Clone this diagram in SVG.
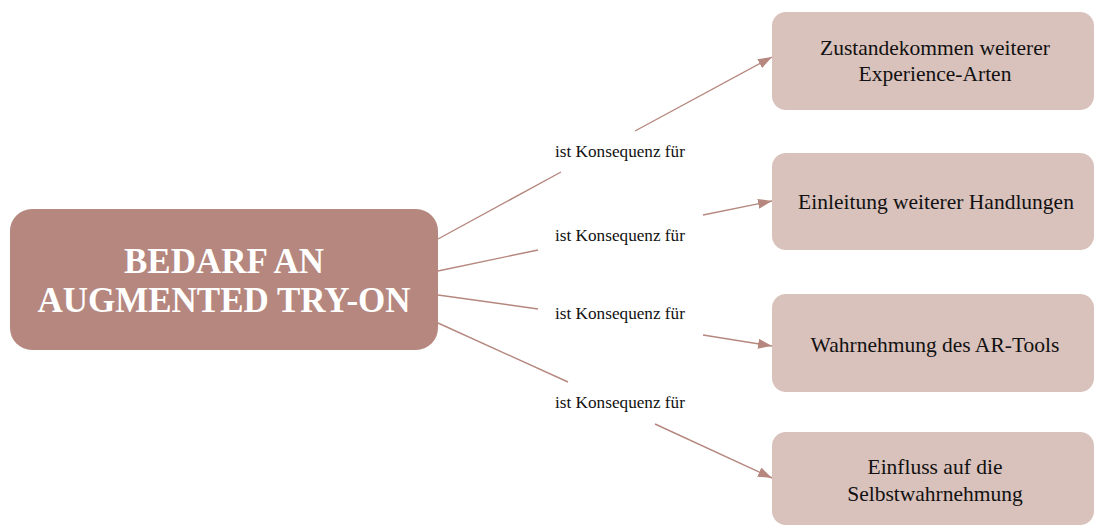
<svg xmlns="http://www.w3.org/2000/svg" width="1095" height="526" viewBox="0 0 1095 526">
<defs>
<marker id="ah" viewBox="0 0 14 10" refX="14" refY="5" markerWidth="14" markerHeight="10" markerUnits="userSpaceOnUse" orient="auto">
<path d="M0,0 L14,5 L0,10 Z" fill="#b5877e"/>
</marker>
<style>
.main{fill:#b5877e}
.sub{fill:#d9c1bc}
.mt{font-family:"Liberation Serif",serif;font-weight:bold;font-size:35px;fill:#fff;text-anchor:middle}
.st{font-family:"Liberation Serif",serif;font-size:21.5px;fill:#111;text-anchor:middle}
.lb{font-family:"Liberation Serif",serif;font-size:17.2px;fill:#111;text-anchor:middle}
.c{stroke:#b5877e;stroke-width:1.4;fill:none}
</style>
</defs>
<rect width="1095" height="526" fill="#fff"/>
<g id="connectors">
<line class="c" x1="438" y1="239" x2="561" y2="172"/>
<line class="c" x1="635" y1="131" x2="772" y2="57" marker-end="url(#ah)"/>
<line class="c" x1="438" y1="271" x2="538" y2="250"/>
<line class="c" x1="703" y1="215" x2="772" y2="201" marker-end="url(#ah)"/>
<line class="c" x1="438" y1="295" x2="538" y2="309"/>
<line class="c" x1="703" y1="335" x2="772" y2="346" marker-end="url(#ah)"/>
<line class="c" x1="438" y1="323" x2="568" y2="382"/>
<line class="c" x1="655" y1="424" x2="772" y2="478" marker-end="url(#ah)"/>
<text class="lb" x="620" y="157">ist Konsequenz für</text>
<text class="lb" x="620" y="241">ist Konsequenz für</text>
<text class="lb" x="620" y="319">ist Konsequenz für</text>
<text class="lb" x="620" y="408">ist Konsequenz für</text>
</g>
<g id="main">
<rect class="main" x="10" y="209" width="428" height="141" rx="22"/>
<text class="mt" x="224" y="273">BEDARF AN</text>
<text class="mt" x="224" y="312">AUGMENTED TRY-ON</text>
</g>
<g id="n1">
<rect class="sub" x="772" y="12" width="322" height="98" rx="14"/>
<text class="st" x="935" y="55">Zustandekommen weiterer</text>
<text class="st" x="935" y="81">Experience-Arten</text>
</g>
<g id="n2">
<rect class="sub" x="772" y="153" width="322" height="97" rx="14"/>
<text class="st" x="936" y="209">Einleitung weiterer Handlungen</text>
</g>
<g id="n3">
<rect class="sub" x="772" y="294" width="322" height="98" rx="14"/>
<text class="st" x="935" y="352">Wahrnehmung des AR-Tools</text>
</g>
<g id="n4">
<rect class="sub" x="772" y="432" width="322" height="93" rx="14"/>
<text class="st" x="935" y="474">Einfluss auf die</text>
<text class="st" x="935" y="501">Selbstwahrnehmung</text>
</g>
</svg>
